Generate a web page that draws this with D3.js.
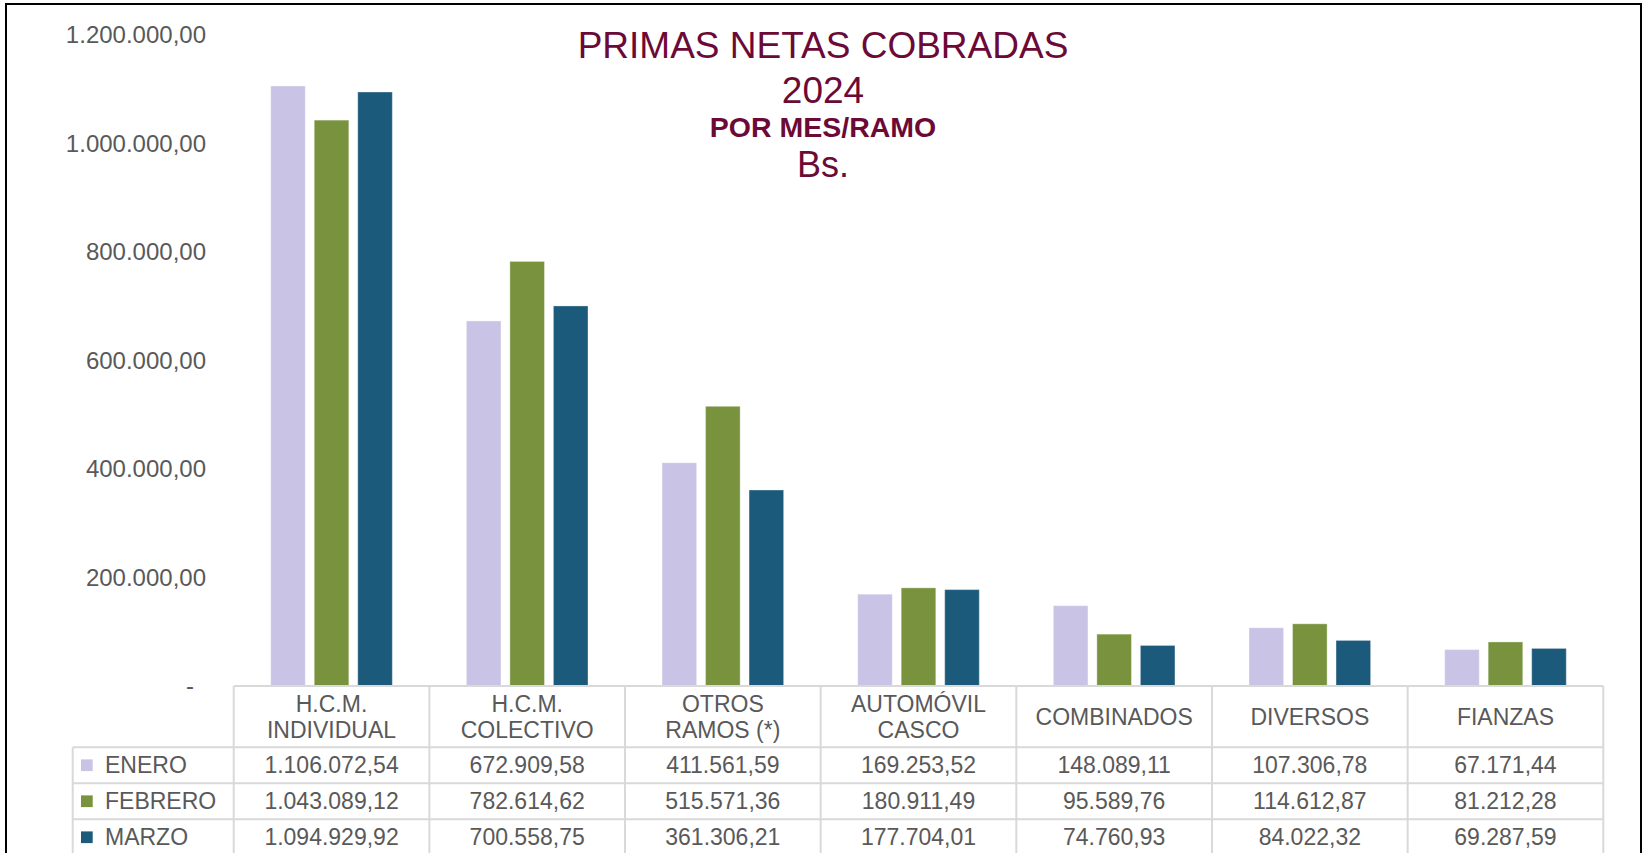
<!DOCTYPE html>
<html>
<head>
<meta charset="utf-8">
<script src="https://cdn.jsdelivr.net/npm/d3@7"></script>
<style>
  body { margin: 0; background: #fff; }
  svg { display: block; font-family: "Liberation Sans", Arial, sans-serif; }
</style>
</head>
<body>
<svg class="chart" width="1643" height="853"></svg>
<script>
// data
var categories = ["H.C.M.\nINDIVIDUAL", "H.C.M.\nCOLECTIVO", "OTROS\nRAMOS (*)", "AUTOMÓVIL\nCASCO", "COMBINADOS", "DIVERSOS", "FIANZAS"];
var months = ["ENERO", "FEBRERO", "MARZO"];
var enero   = [1106072.54, 672909.58, 411561.59, 169253.52, 148089.11, 107306.78, 67171.44];
var febrero = [1043089.12, 782614.62, 515571.36, 180911.49, 95589.76, 114612.87, 81212.28];
var marzo   = [1094929.92, 700558.75, 361306.21, 177704.01, 74760.93, 84022.32, 69287.59];
var yTicks = [0, 200000, 400000, 600000, 800000, 1000000, 1200000];
var titleLines = ["PRIMAS NETAS COBRADAS", "2024", "POR MES/RAMO", "Bs."];

var series = [enero, febrero, marzo];
var colors = ["#c9c4e5", "#78923d", "#1c5a7c"];
var textColor = "#595959";
var gridColor = "#d9d9d9";

var locale = d3.formatLocale({decimal: ",", thousands: ".", grouping: [3], currency: ["", ""]});
var fmt = locale.format(",.2f");

var svg = d3.select(".chart");

// outer frame
svg.append("rect")
  .attr("x", 6).attr("y", 4)
  .attr("width", 1635).attr("height", 900)
  .attr("fill", "none").attr("stroke", "#000").attr("stroke-width", 2);

var left = 233.7, right = 1603.3, base = 686, legendLeft = 72.7;

var x0 = d3.scaleBand().domain(categories).range([left, right]).padding(0);
var x1 = d3.scaleBand().domain(months).range([0, x0.bandwidth()])
  .paddingInner(0.205).paddingOuter(0.851);
var y = d3.scaleLinear().domain([0, 1200000]).range([base, 35]);

// y axis, labels only
var yAxis = d3.axisLeft(y).tickValues(yTicks).tickSize(0).tickPadding(0)
  .tickFormat(function(d){ return d === 0 ? "-" : fmt(d); });
var ya = svg.append("g").attr("transform", "translate(206,0)").call(yAxis);
ya.select(".domain").remove();
ya.selectAll("text")
  .attr("fill", textColor).style("font-size", "24px")
  .attr("font-family", "Liberation Sans, Arial, sans-serif");
ya.selectAll(".tick").filter(function(d){ return d === 0; })
  .select("text").attr("x", -12);

// bars
var groups = svg.selectAll(".grp")
  .data(categories)
  .enter().append("g")
  .attr("class", "grp")
  .attr("transform", function(d){ return "translate(" + x0(d) + ",0)"; });

groups.selectAll("rect")
  .data(function(d, i){ return months.map(function(m, j){ return {m: m, v: series[j][i], j: j}; }); })
  .enter().append("rect")
  .attr("x", function(d){ return x1(d.m); })
  .attr("y", function(d){ return y(d.v); })
  .attr("width", x1.bandwidth())
  .attr("height", function(d){ return base - y(d.v); })
  .attr("fill", function(d){ return colors[d.j]; })
  .attr("stroke", "#ffffff").attr("stroke-opacity", 0.35).attr("stroke-width", 1);

// title
var titleColor = "#6c0a37";
var titleSpec = [
  {y: 58.3, size: 37, weight: "normal"},
  {y: 102.7, size: 37, weight: "normal"},
  {y: 137.3, size: 28.5, weight: "bold"},
  {y: 177.3, size: 36, weight: "normal"}
];
svg.selectAll(".title")
  .data(titleLines)
  .enter().append("text")
  .attr("class", "title")
  .attr("x", 823)
  .attr("y", function(d, i){ return titleSpec[i].y; })
  .attr("text-anchor", "middle")
  .attr("fill", titleColor)
  .style("font-size", function(d, i){ return titleSpec[i].size + "px"; })
  .style("font-weight", function(d, i){ return titleSpec[i].weight; })
  .text(function(d){ return d; });

// data table
var headBottom = 747.3, rowH = 36;
var rowTop = function(j){ return headBottom + j * rowH; };
var table = svg.append("g").attr("class", "table");
var line = function(x1_, y1_, x2_, y2_){
  table.append("line")
    .attr("x1", x1_).attr("y1", y1_).attr("x2", x2_).attr("y2", y2_)
    .attr("stroke", gridColor).attr("stroke-width", 2);
};
line(left, base, right, base);
months.forEach(function(m, j){ line(legendLeft, rowTop(j), right, rowTop(j)); });
line(legendLeft, headBottom, legendLeft, 860);
categories.forEach(function(c){ line(x0(c), base, x0(c), 860); });
line(right, base, right, 860);

// header labels
var headMid = (base + headBottom) / 2;
categories.forEach(function(c){
  var parts = c.split("\n");
  var t = table.append("text")
    .attr("text-anchor", "middle")
    .attr("fill", textColor)
    .style("font-size", "23px");
  parts.forEach(function(p, k){
    t.append("tspan")
      .attr("x", x0(c) + x0.bandwidth() / 2)
      .attr("y", headMid + 8.3 + (k - (parts.length - 1) / 2) * 26.6)
      .text(p);
  });
});

// rows
months.forEach(function(m, j){
  var cy = rowTop(j) + rowH / 2;
  table.append("rect")
    .attr("x", 81).attr("y", cy - 5.9)
    .attr("width", 11.7).attr("height", 11.7)
    .attr("fill", colors[j]);
  table.append("text")
    .attr("x", 105).attr("y", cy + 8)
    .attr("fill", textColor).style("font-size", "23px")
    .text(m);
  table.selectAll(".v" + j)
    .data(series[j])
    .enter().append("text")
    .attr("x", function(d, i){ return x0(categories[i]) + x0.bandwidth() / 2; })
    .attr("y", cy + 8)
    .attr("text-anchor", "middle")
    .attr("fill", textColor).style("font-size", "23px")
    .text(function(d){ return fmt(d); });
});
</script>
</body>
</html>
